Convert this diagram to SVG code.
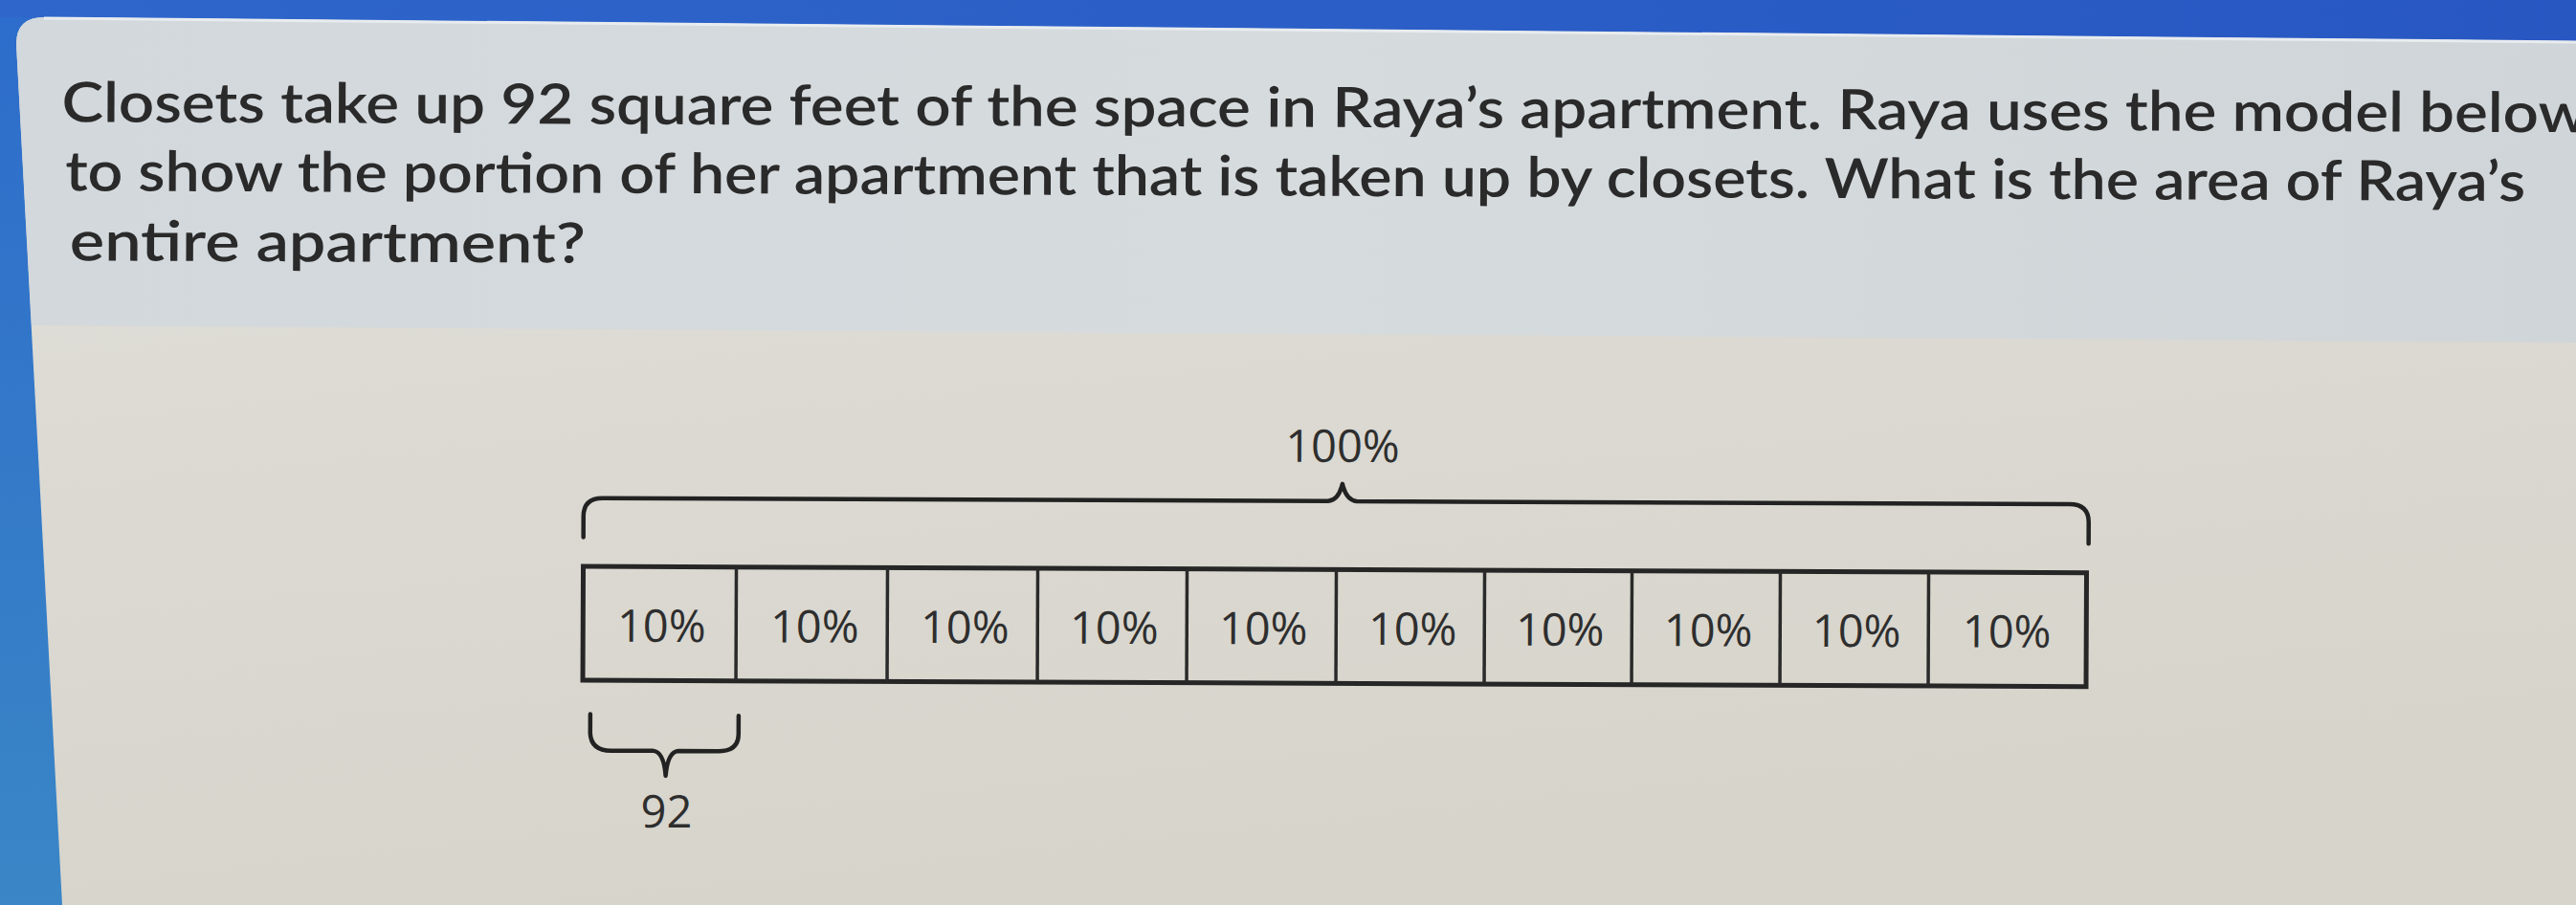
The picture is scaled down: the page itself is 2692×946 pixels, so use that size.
<svg xmlns="http://www.w3.org/2000/svg" width="2692" height="946" viewBox="0 0 2692 946">
  <defs>
    <linearGradient id="blueTop" x1="0" y1="0" x2="1" y2="0">
      <stop offset="0" stop-color="#2e66cb"/>
      <stop offset="1" stop-color="#2857c2"/>
    </linearGradient>
    <linearGradient id="blueLeft" x1="0" y1="0" x2="0" y2="1">
      <stop offset="0" stop-color="#2d6ccb"/>
      <stop offset="1" stop-color="#3a86c6"/>
    </linearGradient>
    <linearGradient id="header" x1="0" y1="0" x2="1" y2="0">
      <stop offset="0" stop-color="#d2d8dc"/>
      <stop offset="0.5" stop-color="#d6dbde"/>
      <stop offset="1" stop-color="#cfd5d8"/>
    </linearGradient>
    <linearGradient id="body" x1="0" y1="0" x2="0.3" y2="1">
      <stop offset="0" stop-color="#e0dfda"/>
      <stop offset="1" stop-color="#d7d4cb"/>
    </linearGradient>
    <style>
      .q { font-family: Lato, "Open Sans", "Liberation Sans", sans-serif; font-weight: 600; font-size: 58px; fill: #2a2a2a; }
      .lbl { font-family: "Open Sans", "Liberation Sans", sans-serif; font-size: 47px; fill: #2e2e2e; }
      .cell { fill: none; stroke: #2a2a2a; stroke-width: 3.5; }
      .outer { fill: none; stroke: #262626; stroke-width: 5; }
      .brace { fill: none; stroke: #222; stroke-width: 4.5; stroke-linejoin: round; stroke-linecap: round; }
    </style>
  </defs>

  <!-- background: screen bezel / blue frame -->
  <rect x="0" y="0" width="2692" height="946" fill="url(#blueLeft)"/>
  <polygon points="0,0 2692,0 2692,44 0,18" fill="url(#blueTop)"/>

  <!-- panel body -->
  <path d="M17,46 Q17,18 46,18 L2692,43 L2692,946 L65,946 Z" fill="url(#body)"/>
  <!-- header strip -->
  <path d="M17,46 Q17,18 46,18 L2692,43 L2692,358 L33,340 Z" fill="url(#header)"/>
  <path d="M46,19 L2692,44" stroke="#e8ecef" stroke-width="3" fill="none"/>

  <g transform="rotate(0.24)">
    <g id="question">
      <text class="q" x="65" y="127" textLength="2640" lengthAdjust="spacingAndGlyphs">Closets take up 92 square feet of the space in Raya’s apartment. Raya uses the model below</text>
      <text class="q" x="69" y="199" textLength="2571" lengthAdjust="spacingAndGlyphs">to show the portion of her apartment that is taken up by closets. What is the area of Raya’s</text>
      <text class="q" x="74" y="272" textLength="539" lengthAdjust="spacingAndGlyphs">entire apartment?</text>
    </g>

    <g id="connectors">
      <path id="brace-total" class="brace" d="M612,559 L612,537 Q612,518 632,518 L1390,518 Q1401,517 1405,500 Q1409,517 1420,518 L2165,518 Q2185,518 2185,537 L2185,559"/>
      <path id="brace-part" class="brace" d="M620,744 L620,764 Q621,782 642,782 L686,782 Q697,783 699,808 Q701,783 712,782 L754,782 Q775,782 775,764 L775,745"/>
    </g>

    <g id="label-total">
      <text class="lbl" x="1405" y="477" text-anchor="middle">100%</text>
    </g>

    <g id="tape">
      <rect class="outer" x="612" y="589.5" width="1571" height="119"/>
      <line class="cell" x1="772" y1="589.5" x2="772" y2="708.5"/>
      <line class="cell" x1="930" y1="589.5" x2="930" y2="708.5"/>
      <line class="cell" x1="1087" y1="589.5" x2="1087" y2="708.5"/>
      <line class="cell" x1="1243" y1="589.5" x2="1243" y2="708.5"/>
      <line class="cell" x1="1399" y1="589.5" x2="1399" y2="708.5"/>
      <line class="cell" x1="1554" y1="589.5" x2="1554" y2="708.5"/>
      <line class="cell" x1="1708" y1="589.5" x2="1708" y2="708.5"/>
      <line class="cell" x1="1863" y1="589.5" x2="1863" y2="708.5"/>
      <line class="cell" x1="2018" y1="589.5" x2="2018" y2="708.5"/>
    </g>

    <g id="cell-labels">
      <text class="lbl" x="694" y="668" text-anchor="middle">10%</text>
      <text class="lbl" x="854" y="668" text-anchor="middle">10%</text>
      <text class="lbl" x="1011" y="668" text-anchor="middle">10%</text>
      <text class="lbl" x="1167" y="668" text-anchor="middle">10%</text>
      <text class="lbl" x="1323" y="668" text-anchor="middle">10%</text>
      <text class="lbl" x="1479" y="668" text-anchor="middle">10%</text>
      <text class="lbl" x="1633" y="668" text-anchor="middle">10%</text>
      <text class="lbl" x="1788" y="668" text-anchor="middle">10%</text>
      <text class="lbl" x="1943" y="668" text-anchor="middle">10%</text>
      <text class="lbl" x="2100" y="668" text-anchor="middle">10%</text>
    </g>

    <g id="label-part">
      <text class="lbl" x="700" y="862" text-anchor="middle">92</text>
    </g>
  </g>
</svg>
